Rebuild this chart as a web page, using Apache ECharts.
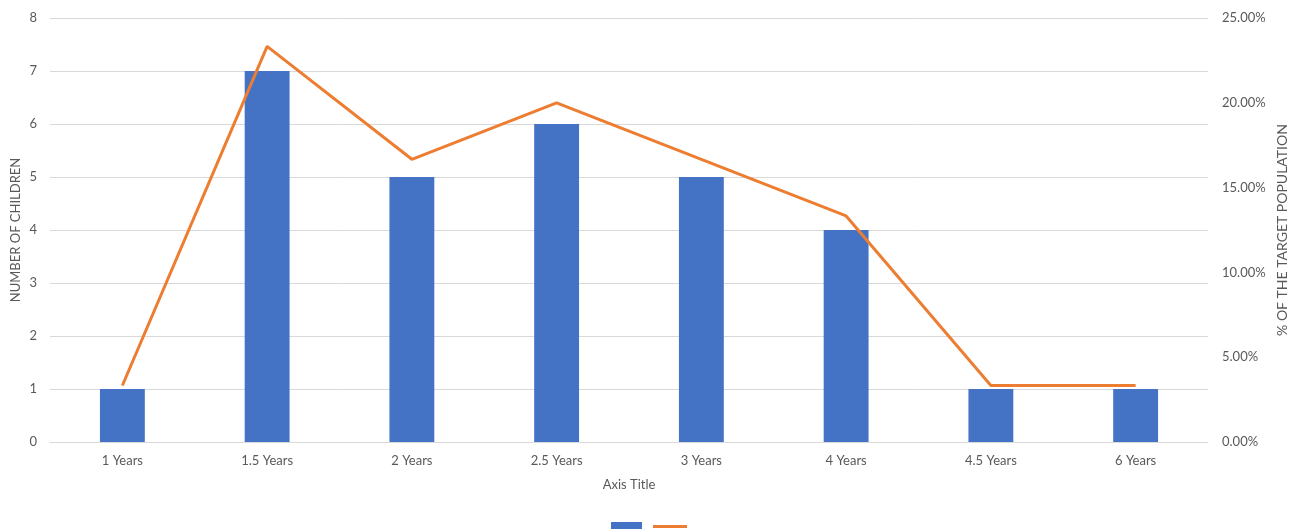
<!DOCTYPE html>
<html>
<head>
<meta charset="utf-8">
<script src="https://cdn.jsdelivr.net/npm/echarts@6/dist/echarts.min.js"></script>
<style>
  html, body { margin: 0; padding: 0; background: #fff; }
  #chart { width: 1296px; height: 529px; }
</style>
</head>
<body>
<div id="chart"></div>
<script>
// Age groups on the category axis
const categories = ['1 Years', '1.5 Years', '2 Years', '2.5 Years', '3 Years', '4 Years', '4.5 Years', '6 Years'];
// Number of children per age group
const childCounts = [1, 7, 5, 6, 5, 4, 1, 1];
// Share of the target population, in percent
const populationShare = [3.33, 23.33, 16.67, 20.00, 16.67, 13.33, 3.33, 3.33];

const FONT = 'Lato, "Open Sans", sans-serif';
const TEXT = '#595959';
const GRID = '#d9d9d9';

const chart = echarts.init(document.getElementById('chart'));
chart.setOption({
  animation: false,
  textStyle: { fontFamily: FONT },
  grid: {
    left: 50, right: 88, top: 18, bottom: 87,
    containLabel: false, outerBoundsMode: 'none'
  },
  legend: [
    {
      data: [{ name: 'Number of Children', icon: 'rect' }],
      left: 611, top: 522, padding: 0, itemWidth: 31, itemHeight: 14,
      textStyle: { fontSize: 1, lineHeight: 1 },
      formatter: () => '', selectedMode: false
    },
    {
      data: [{ name: '% of the Target Population', icon: 'rect' }],
      left: 653, top: 525, padding: 0, itemWidth: 34, itemHeight: 3,
      textStyle: { fontSize: 1, lineHeight: 1 },
      formatter: () => '', selectedMode: false
    }
  ],
  xAxis: {
    type: 'category',
    data: categories,
    name: 'Axis Title',
    nameLocation: 'middle',
    nameGap: 36,
    nameMoveOverlap: false,
    nameTextStyle: { color: TEXT, fontSize: 13, fontFamily: FONT },
    axisLine: { lineStyle: { color: GRID, width: 1 } },
    axisTick: { show: false },
    axisLabel: { color: TEXT, fontSize: 13, margin: 12, fontFamily: FONT }
  },
  yAxis: [
    {
      type: 'value',
      min: 0, max: 8, interval: 1,
      name: 'NUMBER OF CHILDREN',
      nameLocation: 'middle',
      nameGap: 28,
      nameMoveOverlap: false,
      nameTextStyle: { color: TEXT, fontSize: 13, fontFamily: FONT },
      axisLine: { show: false },
      axisTick: { show: false },
      axisLabel: { color: TEXT, fontSize: 13, margin: 13, fontFamily: FONT },
      splitLine: { lineStyle: { color: GRID, width: 1 } }
    },
    {
      type: 'value',
      min: 0, max: 25, interval: 5,
      position: 'right',
      name: '% OF THE TARGET POPULATION',
      nameLocation: 'middle',
      nameGap: 67,
      nameRotate: 90,
      nameMoveOverlap: false,
      nameTextStyle: { color: TEXT, fontSize: 14, fontFamily: FONT },
      axisLine: { show: false },
      axisTick: { show: false },
      axisLabel: {
        color: TEXT, fontSize: 13, margin: 14, fontFamily: FONT,
        formatter: v => v.toFixed(2) + '%'
      },
      splitLine: { show: false }
    }
  ],
  series: [
    {
      name: 'Number of Children',
      type: 'bar',
      yAxisIndex: 0,
      data: childCounts,
      barWidth: '31%',
      itemStyle: { color: '#4472C4' }
    },
    {
      name: '% of the Target Population',
      type: 'line',
      yAxisIndex: 1,
      data: populationShare,
      symbol: 'none',
      lineStyle: { color: '#ED7D31', width: 3 },
      itemStyle: { color: '#ED7D31' }
    }
  ]
});
</script>
</body>
</html>
